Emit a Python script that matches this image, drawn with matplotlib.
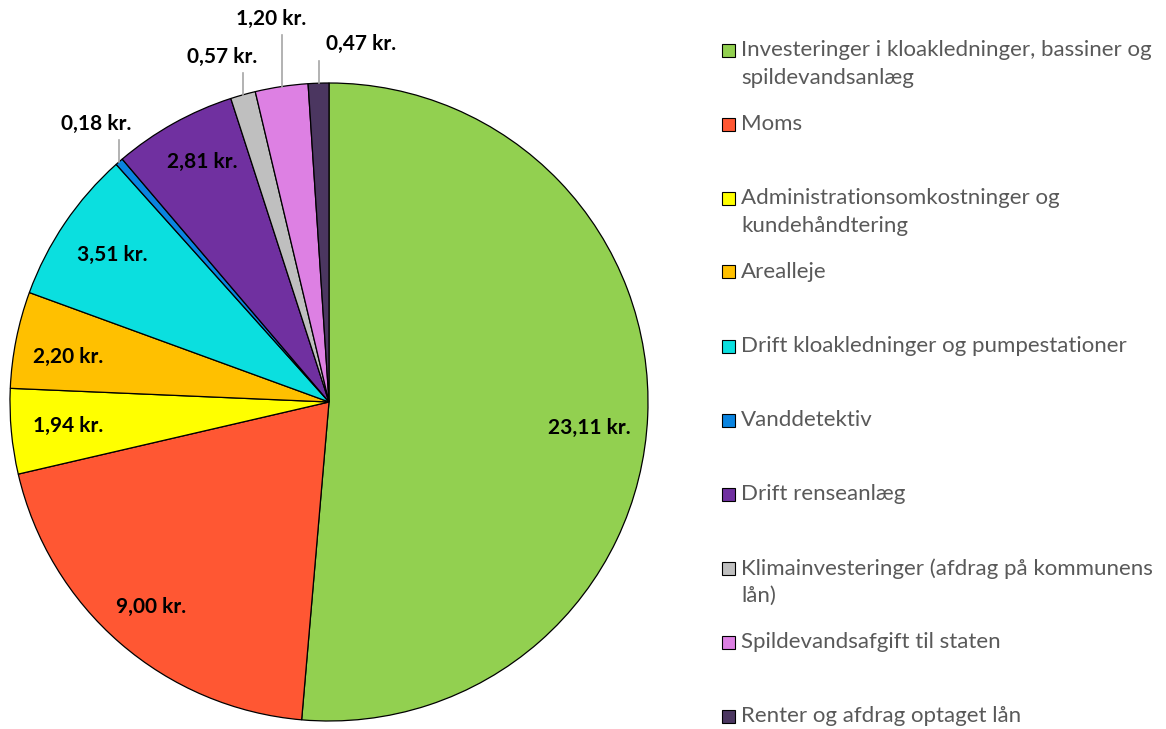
import matplotlib
matplotlib.use("Agg")
from matplotlib import pyplot as plt
from matplotlib.patches import Rectangle
import numpy as np

plt.rcParams['font.family'] = ['Lato', 'DejaVu Sans']

# data
categories = [
    "Investeringer i kloakledninger, bassiner og\nspildevandsanlæg",
    "Moms",
    "Administrationsomkostninger og\nkundehåndtering",
    "Arealleje",
    "Drift kloakledninger og pumpestationer",
    "Vanddetektiv",
    "Drift renseanlæg",
    "Klimainvesteringer (afdrag på kommunens\nlån)",
    "Spildevandsafgift til staten",
    "Renter og afdrag optaget lån",
]
values = [23.11, 9.00, 1.94, 2.20, 3.51, 0.18, 2.81, 0.57, 1.20, 0.47]
labels = ["23,11 kr.", "9,00 kr.", "1,94 kr.", "2,20 kr.", "3,51 kr.",
          "0,18 kr.", "2,81 kr.", "0,57 kr.", "1,20 kr.", "0,47 kr."]
colors = ["#92D050", "#FF5733", "#FFFF00", "#FFC000", "#0BDFDF",
          "#0A84E0", "#7030A0", "#BFBFBF", "#DD80E3", "#4B3660"]

# labels placed outside with a leader line: index -> (top of line, text x)
outside = {5: (0.82, -0.73), 7: (1.03, -0.335), 8: (1.15, -0.18), 9: (1.07, 0.10)}
# small tweaks for inside labels: index -> (distance, angle shift in degrees)
inside = {0: (0.82, -3.3), 1: (0.85, 0), 3: (0.83, 1.5), 6: (0.85, -1.4)}

W, H = 1166, 729
fig = plt.figure(figsize=(W / 100, H / 100), dpi=100)
cx, cy, R = 329, 402, 319
ax = fig.add_axes([(cx - R) / W, (H - cy - R) / H, 2 * R / W, 2 * R / H])

wedges, _ = ax.pie(values, colors=colors, startangle=90, counterclock=False,
                   wedgeprops=dict(edgecolor="black", linewidth=0.9))
ax.set_xlim(-1, 1)
ax.set_ylim(-1, 1)
ax.set_aspect("equal")
ax.axis("off")

for i, w in enumerate(wedges):
    mid = (w.theta1 + w.theta2) / 2
    if i in outside:
        ang = np.deg2rad(mid)
        x, y = np.cos(ang), np.sin(ang)
        ytop, tx = outside[i]
        ax.plot([x, x], [y, ytop], color="#A6A6A6", lw=1.2, clip_on=False)
        ax.text(tx, ytop + 0.02, labels[i], ha="center", va="bottom",
                fontsize=15, fontweight="bold", clip_on=False)
    else:
        d, shift = inside.get(i, (0.82, 0))
        ang = np.deg2rad(mid + shift)
        ax.text(d * np.cos(ang), d * np.sin(ang), labels[i], ha="center",
                va="center", fontsize=15, fontweight="bold")

# legend
for i, lab in enumerate(categories):
    ytop = 50 + i * 74.0
    fig.patches.append(Rectangle((722 / W, 1 - (ytop + 6.5) / H), 13 / W, 13 / H,
                                 transform=fig.transFigure, facecolor=colors[i],
                                 edgecolor="black", linewidth=0.8))
    fig.text(741 / W, 1 - (ytop - 10) / H, lab, ha="left", va="top",
             fontsize=16, color="#595959", linespacing=1.48)

fig.savefig("out.png", dpi=100)
